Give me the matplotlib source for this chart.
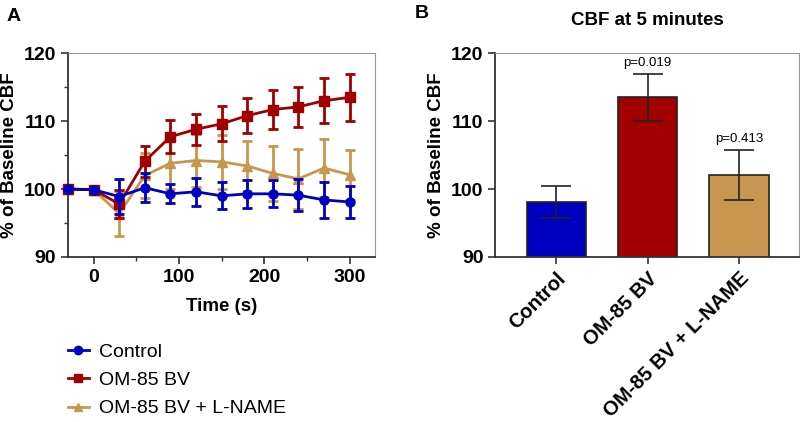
import matplotlib
matplotlib.use("Agg")
import matplotlib.pyplot as plt
import numpy as np
from matplotlib.ticker import MultipleLocator
from matplotlib.lines import Line2D

plt.rcParams['font.family'] = ['Liberation Sans', 'DejaVu Sans']

# time course (panel A)
time_s = [-30, 0, 30, 60, 90, 120, 150, 180, 210, 240, 270, 300]
control = [100.0, 99.9, 98.9, 100.2, 99.3, 99.6, 99.0, 99.3, 99.3, 99.1, 98.4, 98.1]
control_err = [0, 0, 2.6, 2.1, 1.4, 2.1, 2.0, 2.1, 2.0, 2.4, 2.6, 2.35]
om85 = [100.0, 99.9, 97.8, 104.1, 107.7, 108.8, 109.6, 110.8, 111.7, 112.1, 113.0, 113.5]
om85_err = [0, 0, 2.0, 2.3, 2.4, 2.3, 2.6, 2.6, 2.9, 2.9, 3.3, 3.45]
lname = [100.0, 99.9, 96.4, 102.0, 103.8, 104.2, 104.0, 103.4, 102.3, 101.5, 103.1, 102.1]
lname_err = [0, 0, 3.3, 3.3, 3.8, 3.9, 4.0, 3.7, 4.0, 4.4, 4.3, 3.7]

# bars at 5 minutes (panel B)
groups = ["Control", "OM-85 BV", "OM-85 BV + L-NAME"]
bar_vals = [98.1, 113.5, 102.1]
bar_err = [2.35, 3.45, 3.7]
p_labels = ["", "p=0.019", "p=0.413"]

blue = "#0000C0"
red = "#A00000"
tan = "#C8964F"

fig = plt.figure(figsize=(8, 4.22), dpi=100)
axA = fig.add_axes([0.085, 0.391, 0.384, 0.483])
axB = fig.add_axes([0.619, 0.391, 0.380, 0.483])


def style_axes(ax):
  for s in ["left", "bottom"]:
    ax.spines[s].set_color("#333333")
    ax.spines[s].set_linewidth(1.3)
  for s in ["top", "right"]:
    ax.spines[s].set_color("#999999")
    ax.spines[s].set_linewidth(0.8)
  ax.set_ylim(90, 120)
  ax.yaxis.set_major_locator(MultipleLocator(10))
  ax.tick_params(axis="both", which="major", direction="out", length=5, width=1.2,
                 color="#333333", labelsize=14)
  ax.tick_params(axis="both", which="minor", direction="out", length=3, width=1.0,
                 color="#333333")
  for lab in ax.get_yticklabels() + ax.get_xticklabels():
    lab.set_fontweight("bold")
  ax.set_ylabel("% of Baseline CBF", fontsize=13.5, fontweight="bold", labelpad=4)


series = [
  (lname, lname_err, tan, "^", 1),
  (om85, om85_err, red, "s", 2),
  (control, control_err, blue, "o", 3),
]
for vals, errs, col, mk, z in series:
  axA.errorbar(time_s, vals, yerr=errs, color=col, marker=mk, markersize=6.5,
               linewidth=2, elinewidth=2, capsize=3.5, capthick=2, zorder=z,
               clip_on=False)

axA.set_xlim(-30, 330)
axA.xaxis.set_major_locator(MultipleLocator(100))
axA.xaxis.set_minor_locator(MultipleLocator(50))
axA.yaxis.set_minor_locator(MultipleLocator(5))
style_axes(axA)
axA.set_xlabel("Time (s)", fontsize=13.5, fontweight="bold", labelpad=9)

x = np.arange(len(groups))
axB.bar(x, bar_vals, width=0.65, color=[blue, red, tan], edgecolor="#222222",
        linewidth=1.2, zorder=2)
axB.errorbar(x, bar_vals, yerr=bar_err, fmt="none", ecolor="#222222",
             elinewidth=1.2, capsize=11, capthick=1.2, zorder=3)
for xi, v, e, p in zip(x, bar_vals, bar_err, p_labels):
  if p:
    axB.text(xi, v + e + 0.7, p, ha="center", va="bottom", fontsize=9.5)
axB.set_xlim(-0.67, 2.66)
axB.set_xticks(x)
axB.set_xticklabels(groups)
style_axes(axB)
for lab in axB.get_xticklabels():
  lab.set_rotation(45)
  lab.set_ha("right")
  lab.set_rotation_mode("anchor")
  lab.set_fontsize(14.5)
axB.set_title("CBF at 5 minutes", fontsize=13.5, fontweight="bold", pad=20)

fig.text(0.008, 0.962, "A", fontsize=14, fontweight="bold", va="center")
fig.text(0.518, 0.967, "B", fontsize=14, fontweight="bold", va="center")

handles = [
  Line2D([], [], color=blue, marker="o", markersize=6, linewidth=2),
  Line2D([], [], color=red, marker="s", markersize=6, linewidth=2),
  Line2D([], [], color=tan, marker="^", markersize=6, linewidth=2),
]
fig.legend(handles, groups, loc="upper left", bbox_to_anchor=(0.075, 0.205),
           frameon=False, fontsize=14, handlelength=1.1, handletextpad=0.5,
           labelspacing=0.55, borderaxespad=0)

fig.savefig("out.png", dpi=100)
